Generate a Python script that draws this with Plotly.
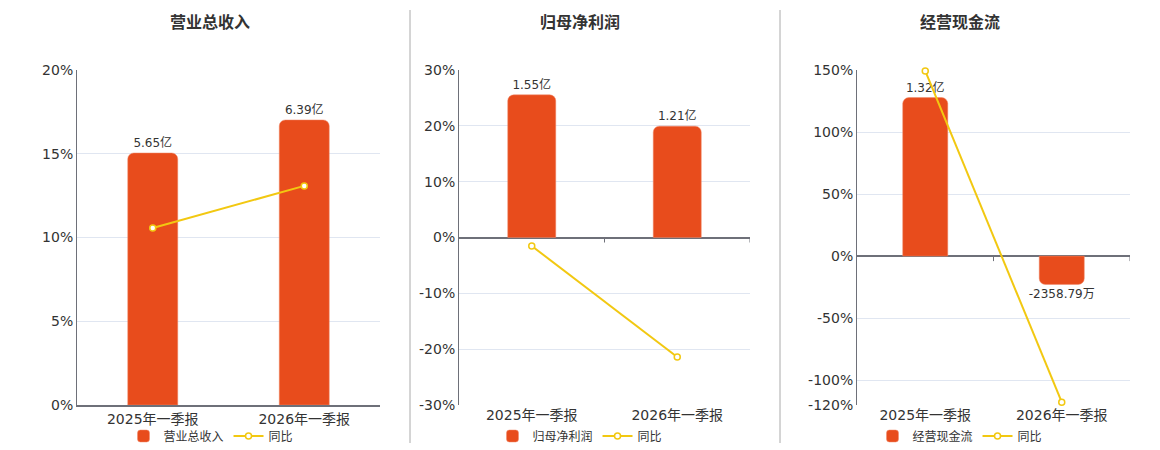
import plotly.graph_objects as go

periods = ['2025年一季报', '2026年一季报']

# 营业总收入 (亿) / 同比 (%)
revenue = [5.65, 6.39]
revenue_labels = ['5.65亿', '6.39亿']
revenue_yoy = [10.57, 13.08]

# 归母净利润 (亿) / 同比 (%)
profit = [1.55, 1.21]
profit_labels = ['1.55亿', '1.21亿']
profit_yoy = [-1.52, -21.4]

# 经营现金流 (亿) / 同比 (%)
cashflow = [1.32, -0.235879]
cashflow_labels = ['1.32亿', '-2358.79万']
cashflow_yoy = [149.2, -117.7]

titles = ['营业总收入', '归母净利润', '经营现金流']

BAR = '#E84C1C'
LINE = '#F2C811'
AXIS = '#6E7079'
GRID = '#E0E6F1'
TXT = '#333333'
FONT = 'DejaVu Sans, Noto Sans CJK SC, sans-serif'

# page has an 8px body margin, so the figure is a bit smaller than the window
W, H, OFF = 1152, 442, 8


def px(xp):
    return (xp - OFF) / W


def py(yp):
    return 1 - (yp - OFF) / H


panels = [
    dict(bars=revenue, labels=revenue_labels, yoy=revenue_yoy, title=titles[0],
         xdom=[px(77), px(380)], bar_range=[0, 7.51], pct_range=[0, 20],
         tickvals=[0, 5, 10, 15, 20], title_x=px(210), legend_x=px(211)),
    dict(bars=profit, labels=profit_labels, yoy=profit_yoy, title=titles[1],
         xdom=[px(459), px(750)], bar_range=[-1.82, 1.82], pct_range=[-30, 30],
         tickvals=[-30, -20, -10, 0, 10, 20, 30], title_x=px(580), legend_x=px(580)),
    dict(bars=cashflow, labels=cashflow_labels, yoy=cashflow_yoy, title=titles[2],
         xdom=[px(857), px(1130)], bar_range=[-1.24, 1.55], pct_range=[-120, 150],
         tickvals=[-120, -100, -50, 0, 50, 100, 150], title_x=px(960), legend_x=px(960)),
]

fig = go.Figure()
annotations = []
shapes = []
ydom = [py(405), py(70)]

for i, p in enumerate(panels):
    n = i + 1
    xa = 'x' if n == 1 else 'x%d' % n
    ybar = 'y' if n == 1 else 'y%d' % n
    ypct = 'y%d' % (n + 3)
    legend = 'legend' if n == 1 else 'legend%d' % n

    fig.add_trace(go.Bar(
        x=periods, y=p['bars'], xaxis=xa, yaxis=ybar, name=p['title'],
        marker=dict(color=BAR, line=dict(color='#F08A6A', width=0.5), cornerradius=6),
        width=0.33, text=p['labels'], textposition='outside', cliponaxis=False,
        constraintext='none',
        textfont=dict(size=12, color=TXT, family=FONT), legend=legend,
    ))
    fig.add_trace(go.Scatter(
        x=periods, y=p['yoy'], xaxis=xa, yaxis=ypct, name='同比', mode='lines+markers',
        line=dict(color=LINE, width=2),
        marker=dict(symbol='circle', size=6, color='white', line=dict(color=LINE, width=1.5)),
        cliponaxis=False, legend=legend,
    ))

    fig.layout['xaxis' if n == 1 else 'xaxis%d' % n] = dict(
        domain=p['xdom'], anchor=ybar, type='category', showgrid=False,
        showline=(n == 1), linecolor=AXIS, linewidth=2, ticks='',
        tickfont=dict(size=14, color=TXT, family=FONT), range=[-0.5, 1.5],
    )
    fig.layout['yaxis' if n == 1 else 'yaxis%d' % n] = dict(
        domain=ydom, anchor=xa, range=p['bar_range'], showgrid=False,
        showticklabels=False, zeroline=False, showline=False,
    )
    fig.layout['yaxis%d' % (n + 3)] = dict(
        overlaying=ybar, anchor=xa, side='left', range=p['pct_range'],
        tickvals=p['tickvals'], ticktext=['%d%%' % v for v in p['tickvals']],
        showgrid=True, gridcolor=GRID, gridwidth=1,
        zeroline=(n != 1), zerolinecolor=AXIS, zerolinewidth=2,
        showline=True, linecolor=AXIS, linewidth=1, ticks='',
        tickfont=dict(size=14, color=TXT, family=FONT),
    )

    # small boundary ticks on the zero line
    for b in [0.5, 1.5]:
        shapes.append(dict(type='line', xref=xa, yref=ypct, x0=b, x1=b,
                           ysizemode='pixel', yanchor=0, y0=0, y1=-5,
                           line=dict(color=AXIS, width=1)))

    annotations.append(dict(text='<b>%s</b>' % p['title'], xref='paper', yref='paper',
                            x=p['title_x'], y=py(22), xanchor='center', yanchor='middle',
                            showarrow=False, font=dict(size=16, color=TXT, family=FONT)))

    fig.layout[legend] = dict(orientation='h', x=p['legend_x'], xanchor='center',
                              y=py(436), yanchor='middle', bgcolor='rgba(0,0,0,0)',
                              font=dict(size=12, color=TXT, family=FONT),
                              itemwidth=30, tracegroupgap=0)

# panel separators
for xs in [410, 780]:
    shapes.append(dict(type='line', xref='paper', yref='paper', x0=px(xs), x1=px(xs),
                       y0=py(443), y1=py(10),
                       line=dict(color='#AAAAAA', width=1)))

fig.update_layout(
    width=W, height=H, margin=dict(l=0, r=0, t=0, b=0, autoexpand=False),
    paper_bgcolor='white', plot_bgcolor='white',
    annotations=annotations, shapes=shapes, bargap=0.5,
    font=dict(family=FONT, color=TXT),
)

fig.write_html('out.html')
